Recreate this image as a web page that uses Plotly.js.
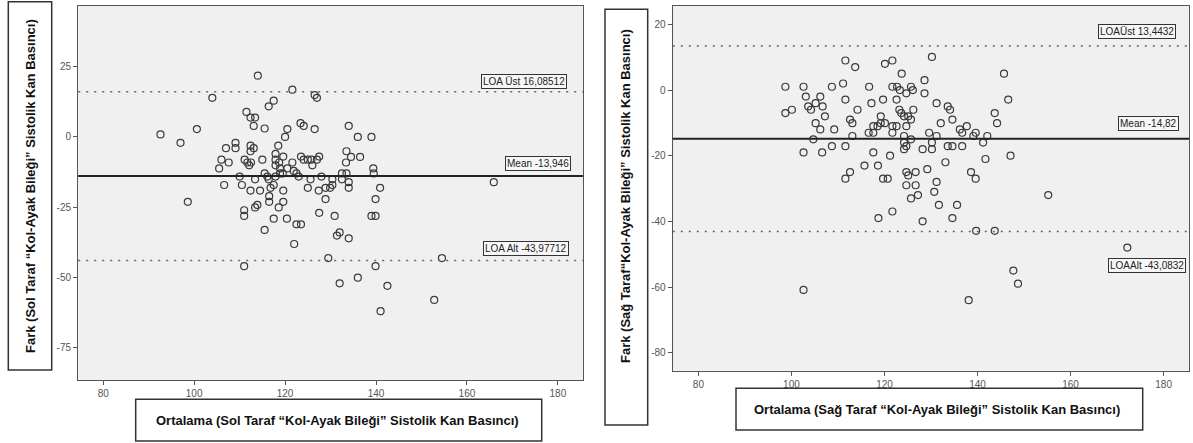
<!DOCTYPE html>
<html><head><meta charset="utf-8">
<script src="https://cdn.plot.ly/plotly-3.0.1.min.js"></script>
<style>html,body{margin:0;padding:0;background:#fff}#chart{width:1193px;height:443px}</style>
</head><body><div id="chart"></div><script>
// ---- data: left panel (Sol Taraf) ----
const leftMean = [114.0,121.6,126.5,127.0,104.0,117.5,116.4,111.5,112.4,113.4,123.4,124.1,113.1,115.5,120.5,126.5,134.0,100.6,92.6,97.0,120.0,136.0,139.0,109.1,109.1,107.0,112.4,113.1,112.4,118.5,133.5,134.5,136.5,123.5,127.5,119.6,117.9,106.0,107.6,111.1,111.7,112.5,112.1,115.0,117.9,118.7,117.9,118.9,121.6,120.5,124.1,125.0,125.8,127.0,126.0,133.4,139.4,139.5,105.5,110.0,113.4,115.5,116.1,116.4,117.9,118.9,119.5,121.9,122.5,123.0,125.6,128.0,130.4,132.5,133.5,132.5,134.0,165.9,106.6,110.5,117.5,116.8,125.0,130.4,128.9,129.9,134.0,140.9,112.4,114.5,119.6,127.4,116.5,116.5,119.6,98.6,128.9,139.9,113.4,113.9,118.6,111.0,111.0,127.5,130.9,139.0,139.9,117.5,120.4,122.5,123.5,115.5,132.0,131.4,134.0,122.0,129.5,154.5,111.0,139.9,136.0,132.0,142.5,152.8,141.0];
const leftDiff = [21.8,16.8,14.9,13.9,13.9,12.9,10.9,8.9,6.9,6.9,4.9,3.9,3.9,3.0,2.8,2.8,3.9,2.8,0.9,-2.1,0,0,0,-2.1,-4.0,-4.0,-3.1,-4.0,-5.1,-3.1,-5.1,-7.1,-7.1,-7.0,-7.0,-7.0,-6.0,-8.1,-9.1,-8.1,-9.1,-9.1,-10.1,-8.1,-8.1,-9.1,-10.1,-11.2,-9.1,-11.2,-8.1,-8.1,-8.1,-8.1,-10.1,-9.1,-11.2,-13.0,-11.2,-14.1,-15.1,-13.0,-14.1,-15.1,-14.1,-13.0,-13.0,-12.1,-13.0,-14.1,-15.1,-14.1,-15.1,-13.0,-13.0,-15.1,-16.1,-16.1,-17.1,-17.1,-17.1,-18.1,-18.1,-17.1,-18.1,-18.1,-18.1,-18.1,-19.1,-19.1,-19.1,-19.1,-21.1,-23.1,-23.1,-23.1,-22.1,-22.1,-25.1,-24.2,-25.1,-26.1,-28.1,-27.0,-28.1,-28.1,-28.1,-29.1,-29.1,-31.1,-31.1,-33.1,-34.0,-35.1,-36.1,-38.1,-43.1,-43.1,-46.0,-46.0,-50.1,-52.1,-53.0,-58.0,-62.0];
const leftLimits = [16.08512, -13.946, -43.97712];
const leftLimitNames = ['LOA Üst', 'Mean', 'LOA Alt'];

// ---- data: right panel (Sağ Taraf) ----
const rightMean = [130.2,111.6,121.7,120.1,113.7,123.7,145.7,128.6,111.1,98.7,102.6,108.7,116.7,121.7,122.7,125.7,123.3,126.1,124.7,128.6,103.1,106.2,111.6,122.6,119.7,146.6,105.2,103.6,106.7,117.2,131.2,133.6,104.2,100.1,114.2,123.2,126.2,134.1,98.7,123.6,143.7,107.2,119.2,124.2,125.1,112.6,125.7,134.6,105.2,113.1,119.2,120.1,132.1,144.2,106.2,109.2,117.6,118.5,121.7,122.6,124.7,136.2,137.7,136.7,116.6,117.6,121.7,129.6,139.6,113.1,124.2,131.2,139.1,142.1,104.7,125.7,124.2,130.2,141.2,108.7,111.6,124.7,133.6,134.6,136.7,124.2,128.2,130.2,102.6,106.6,117.6,121.2,147.1,141.7,115.7,118.6,133.1,129.2,112.6,124.7,126.7,125.1,138.6,111.6,119.7,120.7,139.6,131.2,124.7,126.7,130.7,155.2,127.2,125.7,131.7,135.6,121.7,118.7,134.6,128.2,139.7,143.7,172.2,147.7,148.7,102.6,138.1];
const rightDiff = [10.1,9.0,9.0,8.0,7.0,5.0,5.0,3.0,2.0,1.0,1.0,1.0,1.0,1.0,1.0,1.0,0,0,-1.0,-1.0,-2.0,-2.0,-2.9,-2.9,-2.9,-2.9,-4.0,-5.0,-5.0,-4.0,-4.0,-5.0,-6.0,-6.0,-6.0,-6.0,-6.0,-6.0,-7.0,-7.0,-7.0,-8.0,-8.0,-8.0,-8.0,-9.0,-9.0,-9.0,-10.1,-10.1,-10.1,-10.1,-10.1,-10.1,-12.0,-12.0,-11.0,-11.0,-11.0,-11.0,-11.0,-12.0,-11.0,-13.0,-13.0,-13.0,-13.0,-13.0,-13.0,-14.0,-14.0,-14.0,-14.0,-14.0,-15.0,-15.0,-16.0,-16.0,-16.0,-17.1,-17.1,-17.1,-17.1,-17.1,-17.1,-18.0,-18.0,-18.0,-19.0,-19.0,-19.0,-20.0,-20.0,-21.0,-23.0,-23.0,-22.0,-24.1,-25.0,-25.0,-25.0,-26.0,-25.0,-27.0,-27.0,-27.0,-27.0,-28.0,-29.0,-29.0,-31.0,-32.0,-32.0,-33.0,-35.0,-35.0,-37.0,-39.0,-39.0,-40.0,-42.9,-42.9,-48.0,-55.0,-59.0,-60.9,-64.0];
const rightLimits = [13.4432, -14.82, -43.0832];
const rightLimitNames = ['LOAÜst', 'Mean', 'LOAAlt'];

// ---- ticks and titles ----
const xTicks = [80, 100, 120, 140, 160, 180];
const leftYTicks = [25, 0, -25, -50, -75];
const rightYTicks = [20, 0, -20, -40, -60, -80];
const leftXTitle = 'Ortalama (Sol Taraf “Kol-Ayak Bileği” Sistolik Kan Basıncı)';
const leftYTitle = 'Fark (Sol Taraf “Kol-Ayak Bileği” Sistolik Kan Basıncı)';
const rightXTitle = 'Ortalama (Sağ Taraf “Kol-Ayak Bileği” Sistolik Kan Basıncı)';
const rightYTitle = 'Fark (Sağ Taraf“Kol-Ayak Bileği” Sistolik Kan Basıncı)';

// ---- build ----
const W = 1193, H = 443;
const px = v => v / W;
const py = v => 1 - v / H;
const FONT = 'Liberation Sans, Arial, sans-serif';

const marker = {symbol: 'circle-open', size: 7, color: '#3a3a3a', line: {width: 1.2, color: '#3a3a3a'}};
const traces = [
  {type: 'scatter', mode: 'markers', x: leftMean, y: leftDiff, xaxis: 'x', yaxis: 'y', marker: marker, hoverinfo: 'x+y'},
  {type: 'scatter', mode: 'markers', x: rightMean, y: rightDiff, xaxis: 'x2', yaxis: 'y2', marker: marker, hoverinfo: 'x+y'}
];

function axisX(domain, anchor) {
  return {domain: domain, anchor: anchor, range: [74.5, 185.5], tickvals: xTicks, ticktext: xTicks.map(String),
    showgrid: false, zeroline: false, showline: true, mirror: true, linecolor: '#555', linewidth: 1.2,
    ticks: 'outside', ticklen: 4, tickcolor: '#555', tickfont: {family: FONT, size: 10, color: '#555'}, automargin: false};
}
function axisY(domain, anchor, range, ticks) {
  return {domain: domain, anchor: anchor, range: range, tickvals: ticks, ticktext: ticks.map(String),
    showgrid: false, zeroline: false, showline: true, mirror: true, linecolor: '#555', linewidth: 1.2,
    ticks: 'outside', ticklen: 4, tickcolor: '#555', tickfont: {family: FONT, size: 10, color: '#555'}, automargin: false};
}

const shapes = [];
const annotations = [];
function addLimits(values, names, xr, yr, labelPos) {
  values.forEach((v, i) => {
    const isMean = i === 1;
    shapes.push({type: 'line', xref: xr + ' domain', yref: yr, x0: 0, x1: 1, y0: v, y1: v,
      line: isMean ? {color: '#222', width: 2} : {color: '#666', width: 1.5, dash: '2px,6px'}});
    annotations.push({xref: xr, yref: yr, x: labelPos[i][0], y: labelPos[i][1], xanchor: 'right', yanchor: 'middle',
      text: names[i] + ' ' + String(v).replace('.', ','), showarrow: false,
      font: {family: FONT, size: 10, color: '#222'}, bgcolor: '#f7f7f7', bordercolor: '#333', borderwidth: 1, borderpad: 1});
  });
}
addLimits(leftLimits, leftLimitNames, 'x', 'y', [[182.0, 19.8], [182.9, -9.45], [182.4, -39.8]]);
addLimits(rightLimits, rightLimitNames, 'x2', 'y2', [[182.6, 17.9], [183.3, -10.1], [184.9, -53.5]]);

function titleBox(x0, y0, x1, y1, text, tx, ty, angle) {
  shapes.push({type: 'rect', xref: 'paper', yref: 'paper', x0: px(x0), x1: px(x1), y0: py(y1), y1: py(y0),
    line: {color: '#333', width: 1.5}, fillcolor: 'rgba(0,0,0,0)'});
  annotations.push({xref: 'paper', yref: 'paper', x: px(tx), y: py(ty), xanchor: 'center', yanchor: 'middle',
    text: '<b>' + text + '</b>', textangle: angle, showarrow: false, font: {family: FONT, size: 13, color: '#111'}});
}
titleBox(8.3, 1.7, 51.7, 370, leftYTitle, 30, 186, -90);
titleBox(135.7, 399.3, 541.7, 441, leftXTitle, 337, 420, 0);
titleBox(605, 9.3, 647.7, 425, rightYTitle, 625, 196, -90);
titleBox(736, 388.3, 1142.7, 430, rightXTitle, 937, 409, 0);

const layout = {
  width: W, height: H, margin: {l: 0, r: 0, t: 0, b: 0, pad: 0},
  paper_bgcolor: '#ffffff', plot_bgcolor: '#f0f0f0', showlegend: false,
  xaxis: axisX([px(78.2), px(582.9)], 'y'),
  yaxis: axisY([py(380), py(5.7)], 'x', [-86.5, 46.7], leftYTicks),
  xaxis2: axisX([px(672.8), px(1189.2)], 'y2'),
  yaxis2: axisY([py(370.7), py(5.7)], 'x2', [-85.5, 25.7], rightYTicks),
  shapes: shapes, annotations: annotations
};
Plotly.newPlot('chart', traces, layout, {displayModeBar: false, staticPlot: true});
</script></body></html>
